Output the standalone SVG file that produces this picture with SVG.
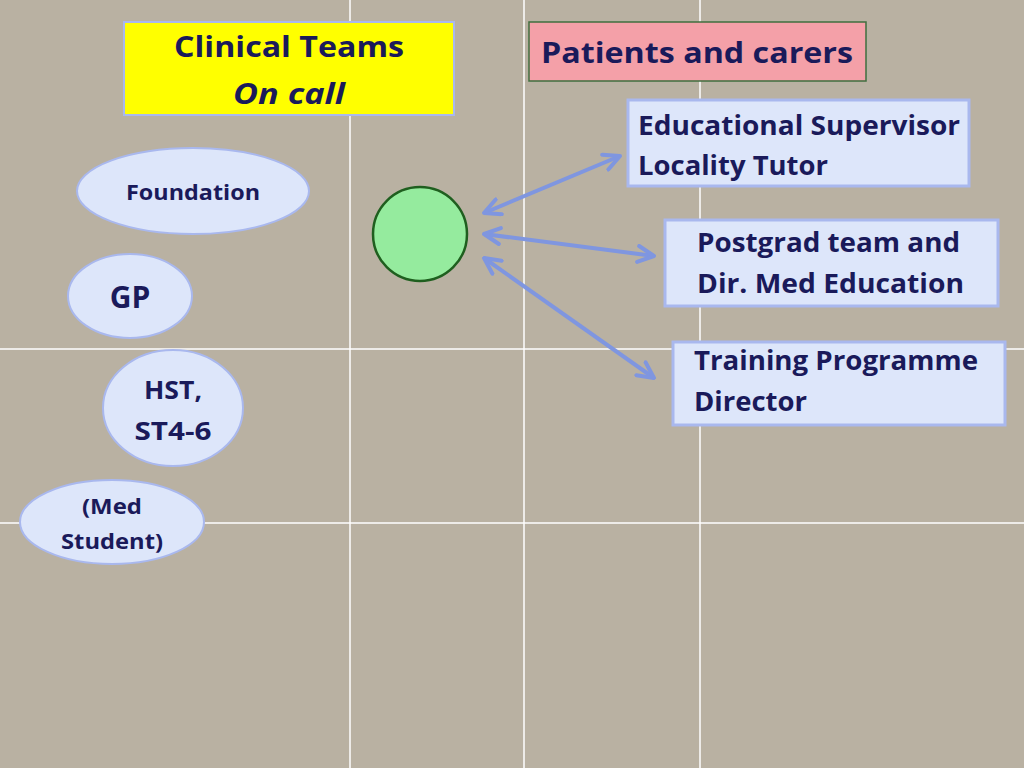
<svg xmlns="http://www.w3.org/2000/svg" width="1024" height="768" viewBox="0 0 1024 768">
<defs>
<style>
text{font-family:"Open Sans","Liberation Sans",sans-serif;font-weight:bold;fill:#1a1a5a}
.box{fill:#dde6fa;stroke:#a9b8ee;stroke-width:3}
.ell{fill:#dde6fa;stroke:#a9b8ee;stroke-width:2}
.grid{stroke:#ffffff;stroke-width:1.5}
.con{stroke:#7f96e0;stroke-width:4;fill:none;marker-start:url(#ah);marker-end:url(#ah)}
</style>
<marker id="ah" viewBox="0 0 10 10" refX="9" refY="5" markerWidth="5" markerHeight="5" orient="auto-start-reverse" markerUnits="strokeWidth">
<path d="M1,1 L9,5 L1,9" fill="none" stroke="#7f96e0" stroke-width="2" stroke-linecap="round" stroke-linejoin="round"/>
</marker>
</defs>
<rect width="1024" height="768" fill="#b9b1a2"/>
<g id="grid">
<line class="grid" x1="350" y1="0" x2="350" y2="768"/>
<line class="grid" x1="524" y1="0" x2="524" y2="768"/>
<line class="grid" x1="700" y1="0" x2="700" y2="768"/>
<line class="grid" x1="0" y1="349" x2="1024" y2="349"/>
<line class="grid" x1="0" y1="523" x2="1024" y2="523"/>
</g>
<g id="clinical"><rect x="124" y="22" width="330" height="93" fill="#ffff00" stroke="#a9b8ee" stroke-width="2"/>
<text x="289" y="57" font-size="29" text-anchor="middle" textLength="230" lengthAdjust="spacingAndGlyphs">Clinical Teams</text>
<text x="289" y="104" font-size="29" text-anchor="middle" font-style="italic" textLength="112" lengthAdjust="spacingAndGlyphs">On call</text></g>
<g id="patients"><rect x="529" y="22" width="337" height="59" fill="#f4a0a8" stroke="#3f6f3f" stroke-width="1.5"/>
<text x="697" y="63" font-size="29" text-anchor="middle" textLength="312" lengthAdjust="spacingAndGlyphs">Patients and carers</text></g>
<g id="es"><rect class="box" x="628" y="100" width="341" height="86"/>
<text x="638" y="135" font-size="26" textLength="322" lengthAdjust="spacingAndGlyphs">Educational Supervisor</text>
<text x="638" y="175" font-size="26" textLength="190" lengthAdjust="spacingAndGlyphs">Locality Tutor</text></g>
<g id="pg"><rect class="box" x="665" y="220" width="333" height="86"/>
<text x="697" y="252" font-size="26" textLength="263" lengthAdjust="spacingAndGlyphs">Postgrad team and</text>
<text x="697" y="293" font-size="26" textLength="267" lengthAdjust="spacingAndGlyphs">Dir. Med Education</text></g>
<g id="tpd"><rect class="box" x="673" y="342" width="332" height="83"/>
<text x="694" y="370" font-size="26" textLength="284" lengthAdjust="spacingAndGlyphs">Training Programme</text>
<text x="694" y="411" font-size="26" textLength="113" lengthAdjust="spacingAndGlyphs">Director</text></g>
<g id="centre"><circle cx="420" cy="234" r="47" fill="#95eb9e" stroke="#1f5f1f" stroke-width="2.5"/></g>
<g id="foundation"><ellipse class="ell" cx="193" cy="191" rx="116" ry="43"/><text x="193" y="200" font-size="21" text-anchor="middle" textLength="134" lengthAdjust="spacingAndGlyphs">Foundation</text></g>
<g id="gp"><ellipse class="ell" cx="130" cy="296" rx="62" ry="42"/><text x="130" y="308" font-size="30" text-anchor="middle">GP</text></g>
<g id="hst"><ellipse class="ell" cx="173" cy="408" rx="70" ry="58"/><text x="173" y="399" font-size="25" text-anchor="middle" textLength="58" lengthAdjust="spacingAndGlyphs">HST,</text><text x="173" y="440" font-size="25" text-anchor="middle" textLength="77" lengthAdjust="spacingAndGlyphs">ST4-6</text></g>
<g id="med"><ellipse class="ell" cx="112" cy="522" rx="92" ry="42"/><text x="112" y="514" font-size="21" text-anchor="middle" textLength="60" lengthAdjust="spacingAndGlyphs">(Med</text><text x="112" y="549" font-size="21" text-anchor="middle" textLength="102" lengthAdjust="spacingAndGlyphs">Student)</text></g>
<g id="connectors">
<line class="con" x1="484" y1="213" x2="620" y2="156"/>
<line class="con" x1="484" y1="234" x2="654" y2="256"/>
<line class="con" x1="484" y1="258" x2="654" y2="378"/>
</g>
</svg>
